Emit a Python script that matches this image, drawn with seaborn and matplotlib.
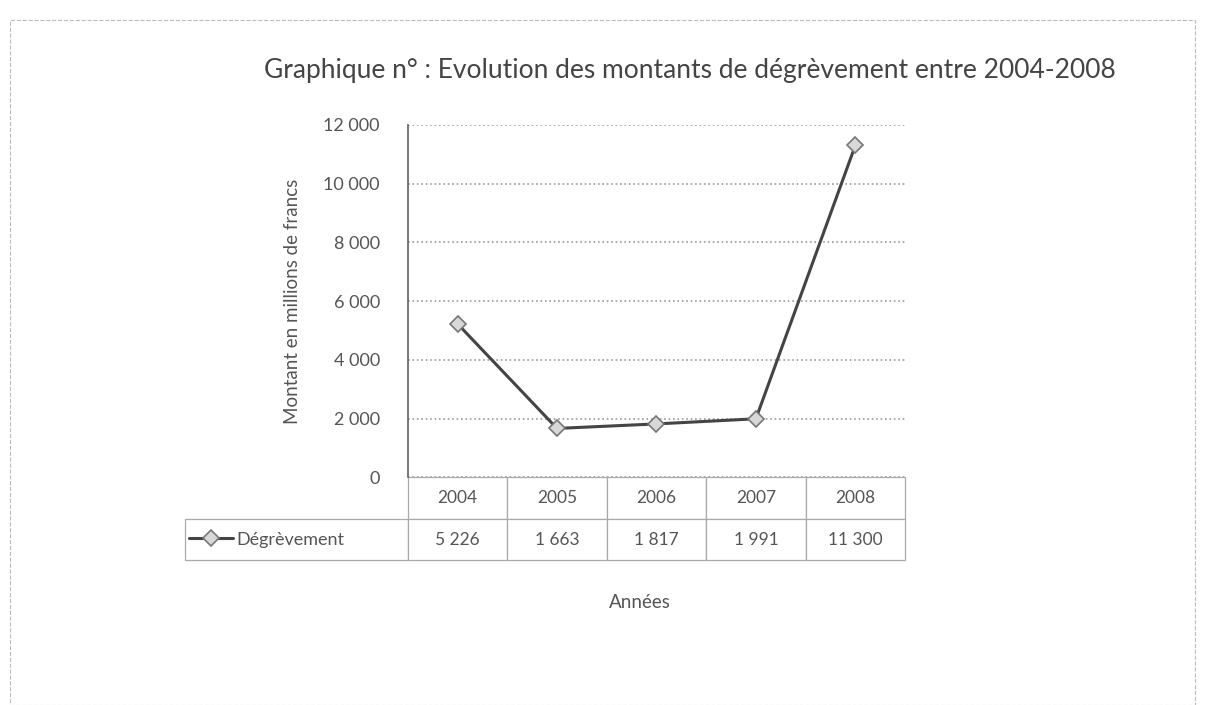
import pandas as pd
import matplotlib.pyplot as plt
import seaborn as sns
from matplotlib.ticker import FuncFormatter
from matplotlib.patches import Rectangle

# Données du graphique
annees = ['2004', '2005', '2006', '2007', '2008']
degrevement = [5226, 1663, 1817, 1991, 11300]
serie = 'Dégrèvement'

df = pd.DataFrame({'Année': annees, 'Montant': degrevement})

sns.set_theme(style='white')
plt.rcParams['font.family'] = ['Lato', 'DejaVu Sans']
gris = '#555555'

fig = plt.figure(figsize=(12.1, 7.05), dpi=100)
ax = fig.add_axes([0.337, 0.323, 0.411, 0.500])

sns.lineplot(data=df, x='Année', y='Montant', ax=ax, sort=False,
             color='#444444', linewidth=2.2, marker='D', markersize=8,
             markerfacecolor='#d8d8d8', markeredgecolor='#777777',
             markeredgewidth=1.2, label=serie)

ax.set_xlim(-0.5, len(annees) - 0.5)
ax.set_ylim(0, 12000)
ax.set_yticks(range(0, 12001, 2000))
ax.yaxis.set_major_formatter(FuncFormatter(lambda v, p: f'{int(v):,}'.replace(',', ' ')))
ax.tick_params(axis='y', labelsize=13, labelcolor=gris, length=0, pad=20)
ax.set_xticks([])
ax.set_xlabel('')
ax.set_ylabel('Montant en millions de francs', fontsize=13.5, color=gris, labelpad=16)
ax.grid(axis='y', linestyle=':', color='#999999', linewidth=1.2)
for s in ['top', 'right', 'bottom']:
    ax.spines[s].set_visible(False)
ax.spines['left'].set_color('#666666')

# Table de données sous le graphique
cell_text = [[''] + annees,
             [''] + [f'{v:,}'.replace(',', ' ') for v in degrevement]]
lab_w = 223 / 497
col_w = 1 / len(annees)
tbl = ax.table(cellText=cell_text, cellLoc='center',
               colWidths=[lab_w] + [col_w] * len(annees),
               bbox=[-lab_w, -0.236, 1 + lab_w, 0.236])
tbl.auto_set_font_size(False)
tbl.set_fontsize(12.5)
for (r, c), cell in tbl.get_celld().items():
    cell.set_edgecolor('#aaaaaa')
    cell.set_linewidth(0.9)
    cell.get_text().set_color(gris)
    if r == 0 and c == 0:
        cell.visible_edges = ''

leg = ax.legend(loc='center left', bbox_to_anchor=(-lab_w - 0.005, -0.177),
                frameon=False, fontsize=13, handlelength=2.4,
                handletextpad=0.2, borderaxespad=0)
for t in leg.get_texts():
    t.set_color(gris)

fig.text(0.529, 0.137, 'Années', ha='center', fontsize=13.5, color=gris)
fig.text(0.570, 0.890, 'Graphique n° : Evolution des montants de dégrèvement entre 2004-2008',
         ha='center', fontsize=19, color='#444444')

# Cadre du graphique
fig.patches.append(Rectangle((0.008, 0.0), 0.98, 0.972, transform=fig.transFigure,
                             fill=False, edgecolor='#bbbbbb', linestyle='--', linewidth=0.8))

fig.savefig('out.png', dpi=100, facecolor='white')
